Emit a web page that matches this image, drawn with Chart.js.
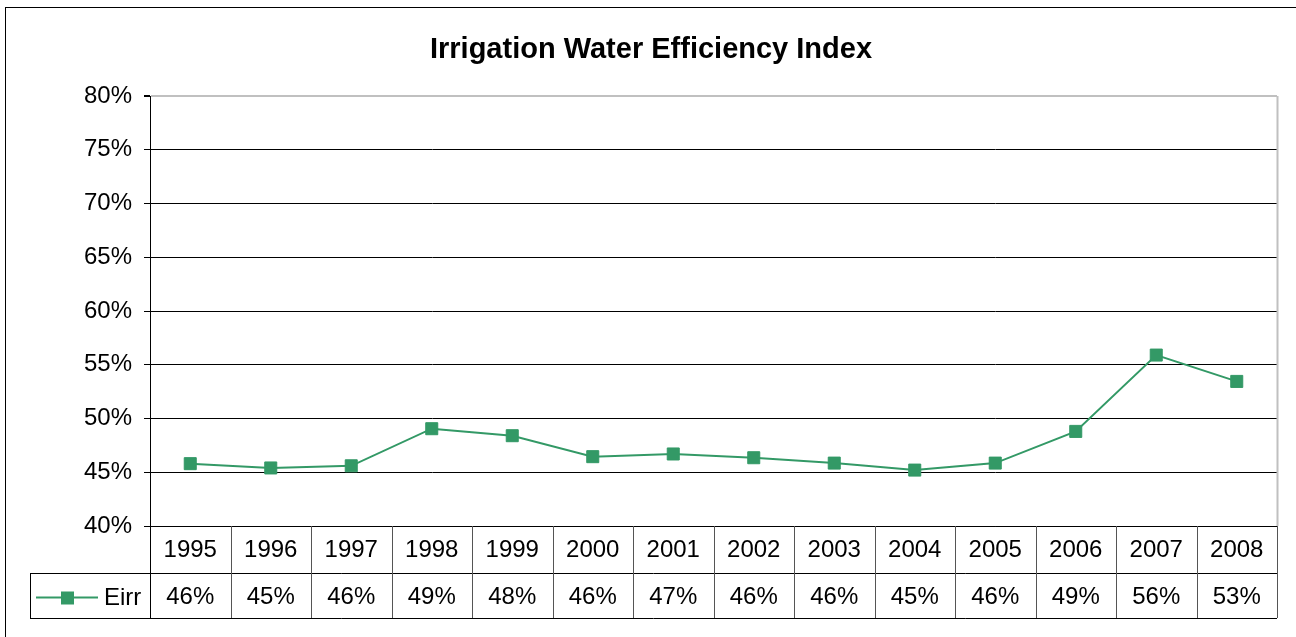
<!DOCTYPE html>
<html>
<head>
<meta charset="utf-8">
<script src="https://cdn.jsdelivr.net/npm/chart.js@4"></script>
<style>
  html, body { margin: 0; padding: 0; background: #fff; }
  #wrap { width: 1296px; height: 637px; position: relative; }
</style>
</head>
<body>
<div id="wrap"><canvas id="eirrChart"></canvas></div>
<script>
const years = ["1995", "1996", "1997", "1998", "1999", "2000", "2001", "2002", "2003", "2004", "2005", "2006", "2007", "2008"];
const eirr = [45.8, 45.4, 45.6, 49.05, 48.4, 46.45, 46.7, 46.35, 45.85, 45.2, 45.85, 48.8, 55.9, 53.45];
const yTicks = [40, 45, 50, 55, 60, 65, 70, 75, 80];
const seriesName = "Eirr";
const chartTitle = "Irrigation Water Efficiency Index";

const green = "#339966";
const fontFamily = "'Liberation Sans', Arial, sans-serif";

// frame, title, right border and the data table under the plot
const tablePlugin = {
  id: "dataTable",
  afterDraw(chart) {
    const { ctx, chartArea } = chart;
    const x = chart.scales.x;
    const left = chartArea.left, right = chartArea.right, bottom = chartArea.bottom;
    const row1 = bottom + 47, row2 = bottom + 92;
    const legendLeft = 30;
    const half = (x.getPixelForValue(1) - x.getPixelForValue(0)) / 2;

    ctx.save();

    // outer frame
    ctx.strokeStyle = "#000";
    ctx.lineWidth = 1;
    ctx.strokeRect(5.5, 7.5, 1300, 640);

    // title
    ctx.fillStyle = "#000";
    ctx.font = "bold 29px " + fontFamily;
    ctx.textAlign = "center";
    ctx.textBaseline = "alphabetic";
    ctx.fillText(chartTitle, 651, 58);

    // plot right border
    ctx.strokeStyle = "#c0c0c0";
    ctx.lineWidth = 2;
    ctx.beginPath();
    ctx.moveTo(right + 0.5, chartArea.top);
    ctx.lineTo(right + 0.5, bottom);
    ctx.stroke();

    // table grid
    ctx.lineWidth = 1;
    ctx.strokeStyle = "#000";
    ctx.beginPath();
    ctx.moveTo(left, Math.round(bottom) + 0.5);
    ctx.lineTo(right, Math.round(bottom) + 0.5);
    ctx.moveTo(legendLeft, row1 + 0.5);
    ctx.lineTo(right, row1 + 0.5);
    ctx.moveTo(legendLeft, row2 + 0.5);
    ctx.lineTo(right, row2 + 0.5);
    ctx.moveTo(legendLeft + 0.5, row1);
    ctx.lineTo(legendLeft + 0.5, row2);
    ctx.moveTo(Math.round(left) + 0.5, bottom);
    ctx.lineTo(Math.round(left) + 0.5, row2);
    ctx.stroke();

    ctx.strokeStyle = "#555";
    ctx.beginPath();
    years.forEach((_, i) => {
      const bx = Math.round(x.getPixelForValue(i) + half) + 0.5;
      ctx.moveTo(bx, bottom);
      ctx.lineTo(bx, row2);
    });
    ctx.stroke();

    // table text
    ctx.fillStyle = "#000";
    ctx.font = "24px " + fontFamily;
    ctx.textAlign = "center";
    ctx.textBaseline = "middle";
    years.forEach((yr, i) => {
      const cx = x.getPixelForValue(i);
      ctx.fillText(yr, cx, (bottom + row1) / 2 + 1);
      ctx.fillText(Math.round(eirr[i]) + "%", cx, (row1 + row2) / 2 + 2);
    });

    // legend key
    const ly = (row1 + row2) / 2 + 2;
    ctx.strokeStyle = green;
    ctx.lineWidth = 2;
    ctx.beginPath();
    ctx.moveTo(36, ly);
    ctx.lineTo(98, ly);
    ctx.stroke();
    ctx.fillStyle = green;
    ctx.fillRect(61, ly - 6, 13, 13);
    ctx.fillStyle = "#000";
    ctx.textAlign = "left";
    ctx.fillText(seriesName, 104, ly + 1);

    ctx.restore();
  }
};

new Chart(document.getElementById("eirrChart"), {
  type: "line",
  data: {
    labels: years,
    datasets: [{
      label: seriesName,
      data: eirr,
      borderColor: green,
      backgroundColor: green,
      borderWidth: 2,
      pointStyle: "rect",
      pointRadius: 8.5,
      pointHoverRadius: 8.5,
      pointBorderWidth: 1,
      pointBorderColor: green,
      tension: 0,
    }],
  },
  options: {
    responsive: true,
    maintainAspectRatio: false,
    animation: false,
    events: [],
    layout: { padding: { top: 96, right: 19, bottom: 111, left: 0 } },
    plugins: {
      legend: { display: false },
      title: { display: false },
      tooltip: { enabled: false },
    },
    scales: {
      x: {
        type: "category",
        offset: true,
        display: false,
      },
      y: {
        min: yTicks[0],
        max: yTicks[yTicks.length - 1],
        afterFit: (scale) => { scale.width = 150; },
        afterBuildTicks: (scale) => { scale.ticks = yTicks.map((v) => ({ value: v })); },
        ticks: {
          padding: 12,
          color: "#000",
          font: { family: fontFamily, size: 24 },
          callback: (v) => v + "%",
        },
        grid: {
          color: (c) => (c.tick && c.tick.value === 80 ? "#c0c0c0" : "#000"),
          lineWidth: (c) => (c.tick && c.tick.value === 80 ? 2 : 1),
          tickColor: "#000",
          tickLength: 6,
          drawTicks: true,
        },
        border: { display: true, color: "#000", width: 1 },
      },
    },
  },
  plugins: [tablePlugin],
});
</script>
</body>
</html>
